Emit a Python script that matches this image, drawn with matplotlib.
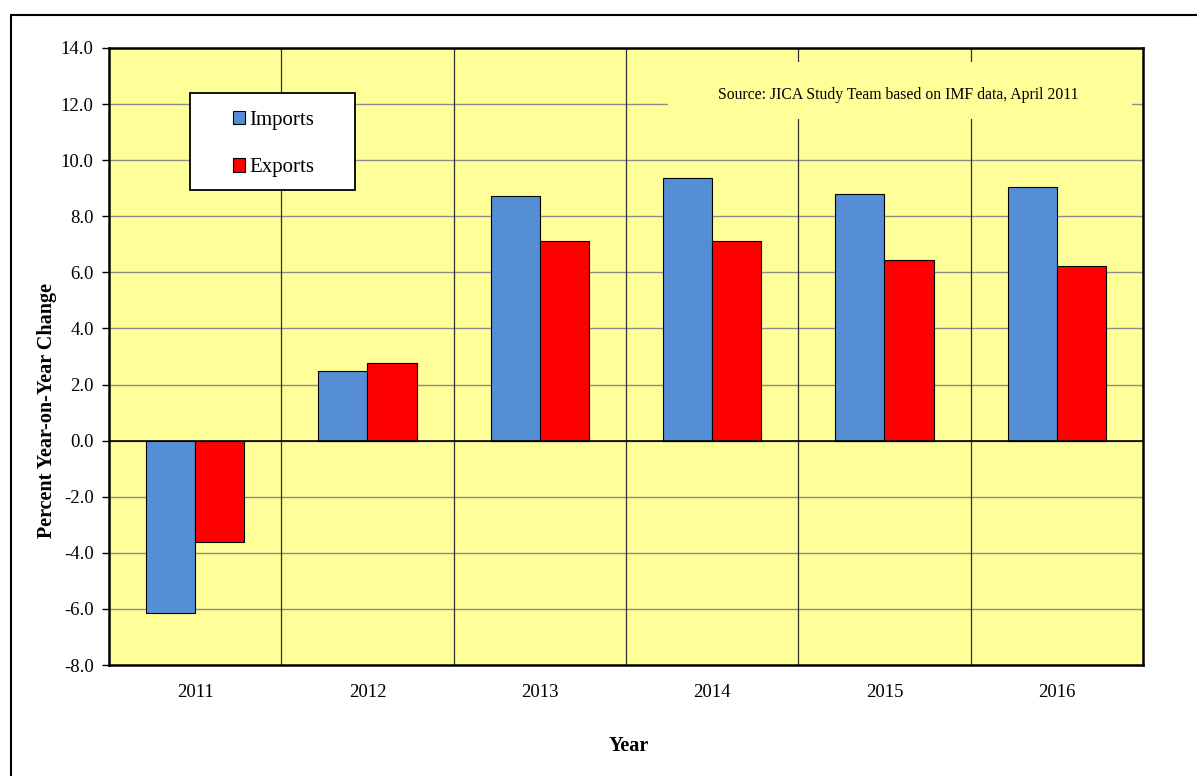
import matplotlib
matplotlib.use("Agg")
import matplotlib.pyplot as plt
import numpy as np
from matplotlib.patches import Rectangle

years = ["2011", "2012", "2013", "2014", "2015", "2016"]
imports = [-6.13, 2.5, 8.73, 9.37, 8.8, 9.06]
exports = [-3.6, 2.78, 7.13, 7.13, 6.45, 6.24]
yticks = [-8.0, -6.0, -4.0, -2.0, 0.0, 2.0, 4.0, 6.0, 8.0, 10.0, 12.0, 14.0]

plt.rcParams['font.family'] = ['Liberation Serif', 'DejaVu Serif']

W, H = 1197, 776
fig = plt.figure(figsize=(W / 100, H / 100), dpi=100)
fig.patch.set_facecolor('white')

# outer frame
fig.patches.append(Rectangle((11 / W, -0.1), 1.2, 1 - 15 / H + 0.1, transform=fig.transFigure,
                             fill=False, edgecolor='black', linewidth=1.5, zorder=0))

left, right, top, bottom = 109, 1143, 48, 665
ax = fig.add_axes([left / W, 1 - bottom / H, (right - left) / W, (bottom - top) / H])
ax.set_facecolor('#FFFF99')

def ax_x(px):
    return (px - left) / (right - left)

def ax_y(py):
    return (bottom - py) / (bottom - top)

x = np.arange(len(years))
bw = 0.285
ax.bar(x - bw / 2, imports, width=bw, color='#558ED5', edgecolor='black', linewidth=0.8,
       label='Imports', zorder=3)
ax.bar(x + bw / 2, exports, width=bw, color='#FF0000', edgecolor='black', linewidth=0.8,
       label='Exports', zorder=3)

ax.set_xlim(-0.5, len(years) - 0.5)
ax.set_ylim(yticks[0], yticks[-1])
ax.set_yticks(yticks)
ax.set_yticklabels([f"{v:.1f}" for v in yticks], fontsize=13.5)
ax.set_xticks(x)
ax.set_xticklabels(years, fontsize=13.5)
ax.tick_params(axis='x', length=0, pad=14)
ax.tick_params(axis='y', length=5, width=1, direction='out', pad=6)

# gridlines
for v in yticks[1:-1]:
    ax.axhline(v, color='#8C8C8C', linewidth=1, zorder=1)
for b in np.arange(0.5, len(years) - 0.5, 1.0):
    ax.axvline(b, color='#303030', linewidth=0.9, zorder=1)
ax.axhline(0, color='black', linewidth=1.2, zorder=4)

for s in ax.spines.values():
    s.set_linewidth(1.8)
    s.set_color('black')
    s.set_zorder(5)

ax.text(ax_x(47), ax_y(411), 'Percent Year-on-Year Change', transform=ax.transAxes,
        rotation=90, ha='center', va='center', fontsize=14.5, fontweight='bold')
ax.text(ax_x(629), ax_y(746), 'Year', transform=ax.transAxes,
        ha='center', va='center', fontsize=14.5, fontweight='bold')

# source note with background
ax.add_patch(Rectangle((ax_x(668), ax_y(119)), ax_x(1132) - ax_x(668), ax_y(62) - ax_y(119),
                       transform=ax.transAxes, facecolor='#FFFF99', edgecolor='none', zorder=2))
ax.text(ax_x(898), ax_y(95), 'Source: JICA Study Team based on IMF data, April 2011',
        transform=ax.transAxes, ha='center', va='center', fontsize=11.3, zorder=3)

# legend: white framed box, entries placed inside
ax.add_patch(Rectangle((ax_x(190), ax_y(190)), ax_x(355) - ax_x(190), ax_y(93) - ax_y(190),
                       transform=ax.transAxes, facecolor='white', edgecolor='black',
                       linewidth=1.3, zorder=6))
leg = ax.legend(loc='center left', bbox_to_anchor=(ax_x(233), ax_y(144)),
                borderaxespad=0, fontsize=15, frameon=False,
                handlelength=0.6, handleheight=0.6, handletextpad=0.2,
                labelspacing=1.38, borderpad=0.0)
leg.set_zorder(7)

fig.savefig('out.png', dpi=100)
